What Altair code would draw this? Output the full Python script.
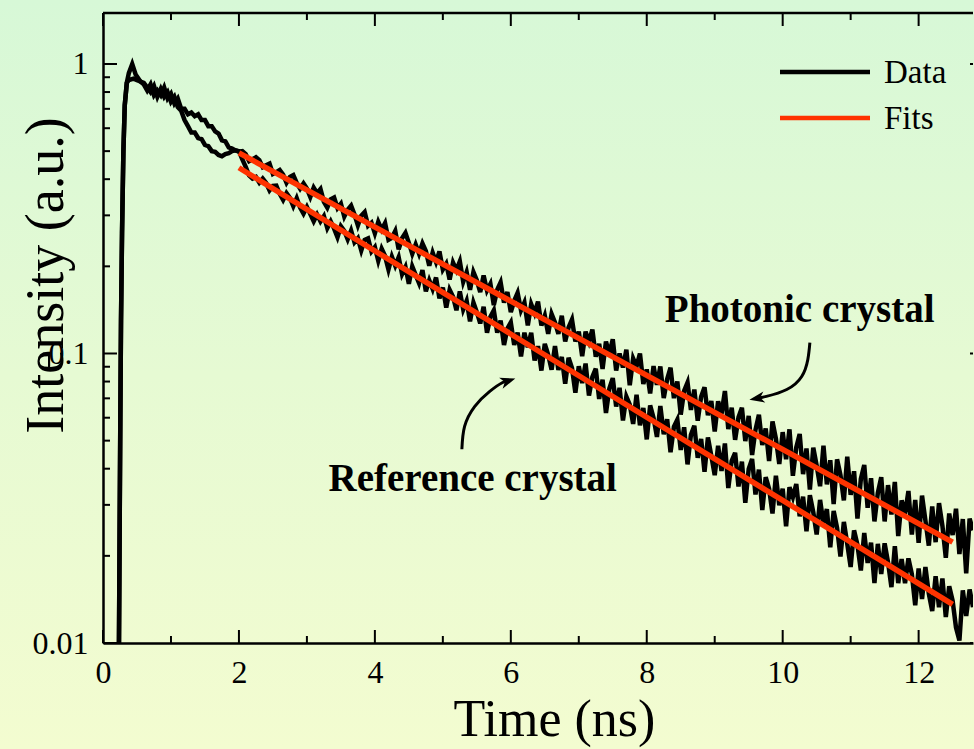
import altair as alt
import pandas as pd

# ---------------- data ----------------
# early part (rise, peak and the loop before 2 ns)
PHOT_EARLY_T = [0.235, 0.245, 0.255, 0.265, 0.28, 0.30, 0.32, 0.35, 0.38, 0.43, 0.48, 0.55,
                0.60, 0.65, 0.70, 0.75, 0.80, 0.85, 0.90, 0.95, 1.00, 1.05, 1.10, 1.15,
                1.20, 1.25, 1.30, 1.35, 1.40, 1.45, 1.50, 1.55, 1.60, 1.65, 1.70, 1.75,
                1.80, 1.85, 1.90, 1.95]
PHOT_EARLY_I = [0.0100, 0.025, 0.06, 0.13, 0.26, 0.50, 0.72, 0.86, 0.93, 1.00, 0.92, 0.87,
                0.86, 0.83, 0.80, 0.84, 0.77, 0.82, 0.77, 0.80, 0.74, 0.77, 0.71, 0.69,
                0.64, 0.61, 0.58, 0.58, 0.555, 0.55, 0.525, 0.52, 0.50, 0.497, 0.485, 0.480,
                0.488, 0.492, 0.50, 0.503]
REF_EARLY_T = [0.235, 0.245, 0.255, 0.265, 0.28, 0.30, 0.32, 0.35, 0.38, 0.45, 0.50, 0.55,
               0.60, 0.65, 0.70, 0.75, 0.80, 0.85, 0.90, 0.95, 1.00, 1.05, 1.10, 1.15,
               1.20, 1.25, 1.30, 1.35, 1.40, 1.45, 1.50, 1.55, 1.60, 1.65, 1.70, 1.75,
               1.80, 1.85, 1.90, 1.95]
REF_EARLY_I = [0.0100, 0.025, 0.06, 0.13, 0.26, 0.50, 0.72, 0.86, 0.88, 0.89, 0.88, 0.87,
               0.85, 0.81, 0.85, 0.78, 0.81, 0.78, 0.83, 0.76, 0.79, 0.73, 0.76, 0.70,
               0.70, 0.67, 0.68, 0.66, 0.67, 0.64, 0.64, 0.61, 0.61, 0.585, 0.575, 0.545,
               0.54, 0.515, 0.51, 0.503]

# tail, sampled every 0.05 ns from 2.00 ns
TAIL_START = 2.0
TAIL_STEP = 0.05
PHOT_TAIL_I = [
    .498, .500, .488, .462, .469, .476, .465, .440, .447, .453, .417, .423, .430, .415, .389, .407,
    .413, .388, .371, .387, .371, .347, .374, .358, .370, .334, .319, .341, .346, .318, .329, .297,
    .314, .324, .302, .277, .299, .308, .276, .283, .260, .285, .268, .282, .247, .251, .265, .229,
    .250, .261, .241, .221, .238, .221, .240, .226, .201, .223, .207, .225, .195, .204, .180, .206,
    .194, .208, .177, .191, .166, .191, .179, .163, .186, .165, .174, .147, .166, .176, .150, .163,
    .139, .152, .162, .141, .150, .125, .148, .138, .151, .125, .135, .117, .137, .128, .117, .135,
    .110, .123, .131, .110, .119, .0978, .119, .110, .121, .0974, .108, .0885, .110, .0997, .112, .0873,
    .100, .0894, .103, .0777, .0961, .0903, .100, .0784, .0881, .0728, .0905, .0779, .0902, .0702, .0814, .0893,
    .0701, .0801, .0615, .0743, .0794, .0638, .0751, .0586, .0709, .0764, .0612, .0685, .0538, .0684, .0619, .0742,
    .0548, .0650, .0503, .0602, .0649, .0498, .0609, .0446, .0545, .0614, .0483, .0551, .0425, .0583, .0508, .0415,
    .0535, .0431, .0547, .0378, .0474, .0527, .0383, .0470, .0339, .0473, .0410, .0348, .0480, .0353, .0428, .0302,
    .0431, .0380, .0311, .0440, .0325, .0392, .0269, .0369, .0412, .0293, .0371, .0263, .0330, .0374, .0263, .0351,
    .0278, .0360, .0234, .0311, .0279, .0335, .0237, .0312, .0222, .0323, .0265, .0217, .0296, .0223, .0304, .0254,
    .0197, .0280, .0236, .0291, .0203, .0268, .0174, .0269, .0245]
REF_TAIL_I = [
    .500, .468, .441, .412, .402, .407, .389, .402, .388, .366, .379, .380, .356, .339, .358, .345,
    .323, .344, .319, .304, .321, .303, .286, .302, .286, .298, .271, .286, .270, .252, .275, .265,
    .248, .266, .242, .250, .227, .247, .250, .225, .233, .209, .230, .217, .195, .216, .201, .215,
    .188, .199, .174, .200, .187, .175, .194, .164, .179, .167, .183, .155, .169, .144, .166, .157,
    .141, .164, .142, .152, .129, .150, .139, .127, .145, .118, .134, .141, .118, .130, .107, .122,
    .128, .107, .118, .0976, .118, .105, .118, .0945, .106, .0873, .108, .0990, .0879, .106, .0878, .0973,
    .0787, .0967, .0891, .0732, .0904, .0790, .0923, .0716, .0830, .0886, .0697, .0812, .0623, .0757, .0822, .0656,
    .0761, .0587, .0710, .0666, .0571, .0720, .0565, .0648, .0505, .0662, .0599, .0515, .0659, .0526, .0593, .0456,
    .0559, .0591, .0464, .0556, .0414, .0524, .0563, .0436, .0507, .0390, .0513, .0443, .0380, .0480, .0393, .0489,
    .0343, .0426, .0454, .0347, .0423, .0305, .0399, .0432, .0326, .0397, .0288, .0374, .0341, .0280, .0378, .0299,
    .0341, .0253, .0345, .0319, .0354, .0274, .0320, .0243, .0324, .0283, .0237, .0312, .0259, .0290, .0214, .0286,
    .0250, .0199, .0262, .0220, .0183, .0245, .0218, .0178, .0240, .0189, .0222, .0161, .0220, .0173, .0221, .0190,
    .0156, .0216, .0161, .0195, .0161, .0196, .0173, .0135, .0181, .0142, .0183, .0148, .0129, .0170, .0133, .0167,
    .0123, .0157, .0140, .0113, .0102, .0152, .0124, .0153, .0133]

# single-exponential fits (straight on the log axis)
FIT_T = [2.0, 12.5]
PHOT_FIT_I = [0.493, 0.0223]
REF_FIT_I = [0.438, 0.0136]

# axis ticks
X_MAJOR = [0, 2, 4, 6, 8, 10, 12]
X_MINOR = [1, 3, 5, 7, 9, 11]
Y_MAJOR = [0.01, 0.1, 1]
Y_MINOR = [0.02, 0.03, 0.04, 0.05, 0.06, 0.07, 0.08, 0.09,
           0.2, 0.3, 0.4, 0.5, 0.6, 0.7, 0.8, 0.9]

# annotations
NOTE_TEXT = ["Photonic crystal", "Reference crystal"]
NOTE_T = [10.25, 5.44]
NOTE_I = [0.128, 0.0334]
PH_ARROW_T = [10.40, 10.37, 10.28, 10.06, 9.76, 9.62]
PH_ARROW_I = [0.109, 0.0954, 0.0833, 0.0751, 0.0711, 0.0700]
REF_ARROW_T = [5.28, 5.32, 5.47, 5.69, 5.88, 5.96]
REF_ARROW_I = [0.0467, 0.0560, 0.0657, 0.0740, 0.0794, 0.0804]
HEAD_T = [9.62, 5.96]
HEAD_I = [0.0700, 0.0804]
HEAD_ANGLE = [170, 342]

LEGEND_LABELS = ["Data", "Fits"]
DATA_COLOR = "#000000"
FIT_COLOR = "#ff3300"

# ---------------- tables ----------------
def tail_times(n):
    return [round(TAIL_START + TAIL_STEP * i, 2) for i in range(n)]

rows = []
for t, v in zip(PHOT_EARLY_T + tail_times(len(PHOT_TAIL_I)), PHOT_EARLY_I + PHOT_TAIL_I):
    rows.append({"t": t, "I": v, "curve": "photonic"})
for t, v in zip(REF_EARLY_T + tail_times(len(REF_TAIL_I)), REF_EARLY_I + REF_TAIL_I):
    rows.append({"t": t, "I": v, "curve": "reference"})
data_df = pd.DataFrame(rows)

fit_df = pd.DataFrame({
    "t": FIT_T + FIT_T,
    "I": PHOT_FIT_I + REF_FIT_I,
    "curve": ["photonic"] * 2 + ["reference"] * 2,
})

arrow_df = pd.DataFrame({
    "t": PH_ARROW_T + REF_ARROW_T,
    "I": PH_ARROW_I + REF_ARROW_I,
    "arrow": ["ph"] * len(PH_ARROW_T) + ["ref"] * len(REF_ARROW_T),
})
head_df = pd.DataFrame({"t": HEAD_T, "I": HEAD_I, "ang": HEAD_ANGLE})
note_df = pd.DataFrame({"t": NOTE_T, "I": NOTE_I, "txt": NOTE_TEXT})

W, H = 870, 630
FONT = "Liberation Serif"
XS = alt.Scale(domain=[0, 12.8], nice=False, zero=False)
YS = alt.Scale(type="log", domain=[0.01, 1.5], nice=False)

x_axis = alt.Axis(values=X_MAJOR, title="Time (ns)", ticks=False, tickSize=0, grid=False, zindex=2,
                  labelFlush=False, labelPadding=14, labelFont=FONT, labelFontSize=32,
                  labelColor="black", domainColor="black", domainWidth=2.5,
                  titleFont=FONT, titleFontSize=52, titleFontWeight="normal", titleColor="black",
                  titleX=451, titleY=92, titleBaseline="alphabetic", titleAlign="center")
y_axis = alt.Axis(values=Y_MAJOR, format="~g", title="Intensity (a.u.)", ticks=False, tickSize=0,
                  grid=False, zindex=2, labelFlush=False, labelPadding=15, labelFont=FONT,
                  labelFontSize=32, labelColor="black", domainColor="black", domainWidth=2.5,
                  titleFont=FONT, titleFontSize=54, titleFontWeight="normal", titleColor="black",
                  titleX=-41, titleY=262, titleAngle=270, titleBaseline="alphabetic",
                  titleAlign="center")

def X(field="t"):
    return alt.X(f"{field}:Q", scale=XS, axis=x_axis)

def Y(field="I"):
    return alt.Y(f"{field}:Q", scale=YS, axis=y_axis)

one = pd.DataFrame({"k": [0]})

bg = alt.Chart(one).mark_rect(
    fill=alt.Gradient(gradient="linear",
                      stops=[alt.GradientStop(color="#d7f8d7", offset=0),
                             alt.GradientStop(color="#e6fad3", offset=0.5),
                             alt.GradientStop(color="#f3fcd0", offset=1)],
                      x1=0, x2=0, y1=0, y2=1)
).encode(x=alt.value(-103), x2=alt.value(871), y=alt.value(-13), y2=alt.value(736))

data_layer = alt.Chart(data_df).mark_line(color=DATA_COLOR, strokeWidth=4.5, clip=True).encode(
    x=X(), y=Y(), detail="curve:N")

fit_layer = alt.Chart(fit_df).mark_line(color=FIT_COLOR, strokeWidth=5.5, clip=True).encode(
    x=X(), y=Y(), detail="curve:N")

def tick_df(vals):
    return pd.DataFrame({"v": vals})

tick_style = dict(color="black", strokeWidth=2)
left_major = alt.Chart(tick_df(Y_MAJOR)).mark_rule(**tick_style).encode(
    y=Y("v"), x=alt.value(0), x2=alt.value(14))
left_minor = alt.Chart(tick_df(Y_MINOR)).mark_rule(**tick_style).encode(
    y=Y("v"), x=alt.value(0), x2=alt.value(7))
right_major = alt.Chart(tick_df(Y_MAJOR)).mark_rule(**tick_style).encode(
    y=Y("v"), x=alt.value(W - 3), x2=alt.value(W))
top_major = alt.Chart(tick_df(X_MAJOR)).mark_rule(**tick_style).encode(
    x=X("v"), y=alt.value(0), y2=alt.value(13))
top_minor = alt.Chart(tick_df(X_MINOR)).mark_rule(**tick_style).encode(
    x=X("v"), y=alt.value(0), y2=alt.value(7))
bot_major = alt.Chart(tick_df(X_MAJOR)).mark_rule(**tick_style).encode(
    x=X("v"), y=alt.value(H), y2=alt.value(H - 13))
bot_minor = alt.Chart(tick_df(X_MINOR)).mark_rule(**tick_style).encode(
    x=X("v"), y=alt.value(H), y2=alt.value(H - 7))
top_border = alt.Chart(one).mark_rule(color="black", strokeWidth=2.5).encode(
    x=alt.value(0), x2=alt.value(W), y=alt.value(0))

arrows = alt.Chart(arrow_df).mark_line(color="black", strokeWidth=3, interpolate="natural").encode(
    x=X(), y=Y(), detail="arrow:N")
heads = alt.Chart(head_df).mark_point(
    shape="M1,0L-1,-0.75L-0.45,0L-1,0.75Z", filled=True, color="black", opacity=1, size=230
).encode(x=X(), y=Y(), angle=alt.Angle("ang:Q", scale=None))

notes = alt.Chart(note_df).mark_text(font=FONT, fontSize=39, fontWeight="bold", color="black",
                                     align="center", baseline="alphabetic").encode(
    x=X(), y=Y(), text="txt:N")

leg_data_line = alt.Chart(one).mark_rule(color=DATA_COLOR, strokeWidth=4.5).encode(
    x=alt.value(677), x2=alt.value(767), y=alt.value(59))
leg_fit_line = alt.Chart(one).mark_rule(color=FIT_COLOR, strokeWidth=4.5).encode(
    x=alt.value(677), x2=alt.value(767), y=alt.value(105))
leg_data_txt = alt.Chart(one).mark_text(text=LEGEND_LABELS[0], font=FONT, fontSize=33, color="black",
                                        align="left", baseline="alphabetic").encode(
    x=alt.value(781), y=alt.value(70))
leg_fit_txt = alt.Chart(one).mark_text(text=LEGEND_LABELS[1], font=FONT, fontSize=33, color="black",
                                       align="left", baseline="alphabetic").encode(
    x=alt.value(781), y=alt.value(116))

chart = alt.layer(
    bg, data_layer, fit_layer,
    left_major, left_minor, right_major, top_major, top_minor, bot_major, bot_minor, top_border,
    arrows, heads, notes,
    leg_data_line, leg_fit_line, leg_data_txt, leg_fit_txt,
).properties(
    width=W, height=H,
    autosize=alt.AutoSizeParams(type="none"),
    padding={"left": 103, "top": 13, "right": 1, "bottom": 106},
    background="#e6fad3",
).configure_view(strokeWidth=0)

chart.save("out.html", embed_options={"renderer": "svg", "actions": False})
